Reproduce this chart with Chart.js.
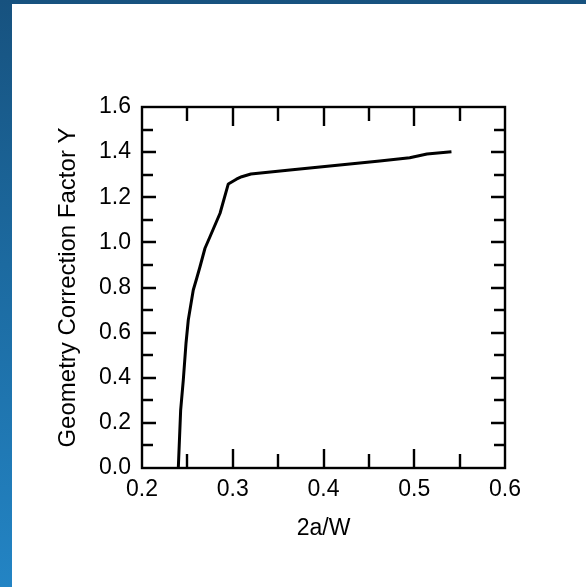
<!DOCTYPE html>
<html>
<head>
<meta charset="utf-8">
<script src="https://cdn.jsdelivr.net/npm/chart.js@4.4.1/dist/chart.umd.min.js"></script>
<style>
  html, body { margin: 0; padding: 0; }
  body {
    width: 586px; height: 587px; overflow: hidden; position: relative;
    background: linear-gradient(180deg, #17527f 0%, #1c6aa0 45%, #2384c4 100%);
  }
  #panel { position: absolute; left: 12px; top: 4px; width: 574px; height: 583px; background: #fff; }
  #chartBox { position: relative; width: 574px; height: 583px; }
</style>
</head>
<body>
<div id="panel"><div id="chartBox"><canvas id="chart"></canvas></div></div>
<script>
// Dados (2a/W vs fator Y)
const ratio = [0.240, 0.2426, 0.2455, 0.2485, 0.2510, 0.2565, 0.2603, 0.2639, 0.2694, 0.2749,
               0.2860, 0.2951, 0.3040, 0.3099, 0.3200, 0.3630, 0.4180, 0.4620, 0.4950, 0.5140, 0.5410];
const factorY = [0.000, 0.257, 0.390, 0.553, 0.656, 0.789, 0.841, 0.892, 0.974, 1.025,
                 1.129, 1.259, 1.280, 1.291, 1.303, 1.321, 1.343, 1.361, 1.375, 1.392, 1.402];

const xTitle = '2a/W';
const yTitle = 'Geometry Correction Factor Y';

const fontFamily = '"Liberation Sans", Arial, Helvetica, sans-serif';

// Moldura e marcas internas nos quatro lados
const frameTicks = {
  id: 'frameTicks',
  afterDatasetsDraw(chart) {
    const { ctx, chartArea: a, scales: { x, y } } = chart;
    ctx.save();
    ctx.strokeStyle = '#000';
    ctx.lineWidth = 2.4;
    ctx.strokeRect(a.left, a.top, a.right - a.left, a.bottom - a.top);
    ctx.beginPath();
    for (let i = 1; i < 8; i++) {
      const px = Math.round(x.getPixelForValue(x.min + i * 0.05));
      const len = i % 2 === 0 ? 19 : 14;
      ctx.moveTo(px, a.bottom); ctx.lineTo(px, a.bottom - len);
      ctx.moveTo(px, a.top); ctx.lineTo(px, a.top + len);
    }
    for (let i = 1; i < 16; i++) {
      const py = Math.round(y.getPixelForValue(i * 0.1));
      const len = i % 2 === 0 ? 14 : 11;
      ctx.moveTo(a.left, py); ctx.lineTo(a.left + len, py);
      ctx.moveTo(a.right, py); ctx.lineTo(a.right - len, py);
    }
    ctx.stroke();
    ctx.restore();
  }
};

new Chart(document.getElementById('chart'), {
  type: 'line',
  data: {
    datasets: [{
      data: ratio.map((r, i) => ({ x: r, y: factorY[i] })),
      borderColor: '#000',
      borderWidth: 3,
      pointRadius: 0,
      tension: 0,
      fill: false,
      borderJoinStyle: 'round'
    }]
  },
  options: {
    responsive: true,
    maintainAspectRatio: false,
    animation: false,
    layout: { padding: { left: 0, top: 103, right: 81, bottom: 35 } },
    plugins: { legend: { display: false }, tooltip: { enabled: false } },
    scales: {
      x: {
        type: 'linear',
        min: 0.2, max: 0.6,
        afterFit(scale) { scale.height = 84; },
        grid: { display: false, drawTicks: false },
        border: { display: false },
        ticks: {
          stepSize: 0.1,
          padding: 8,
          color: '#000',
          font: { family: fontFamily, size: 23 },
          maxRotation: 0,
          callback: v => v.toFixed(1)
        },
        title: {
          display: true,
          text: xTitle,
          color: '#000',
          font: { family: fontFamily, size: 23 },
          padding: { top: 0, bottom: 9.5 }
        }
      },
      y: {
        min: 0, max: 1.6,
        afterFit(scale) { scale.width = 130; },
        grid: { display: false, drawTicks: false },
        border: { display: false },
        ticks: {
          stepSize: 0.2,
          padding: 11,
          color: '#000',
          font: { family: fontFamily, size: 23 },
          callback: v => v.toFixed(1)
        },
        title: {
          display: true,
          text: yTitle,
          color: '#000',
          font: { family: fontFamily, size: 24 },
          padding: { top: 42, bottom: 0 }
        }
      }
    }
  },
  plugins: [frameTicks]
});
</script>
</body>
</html>
